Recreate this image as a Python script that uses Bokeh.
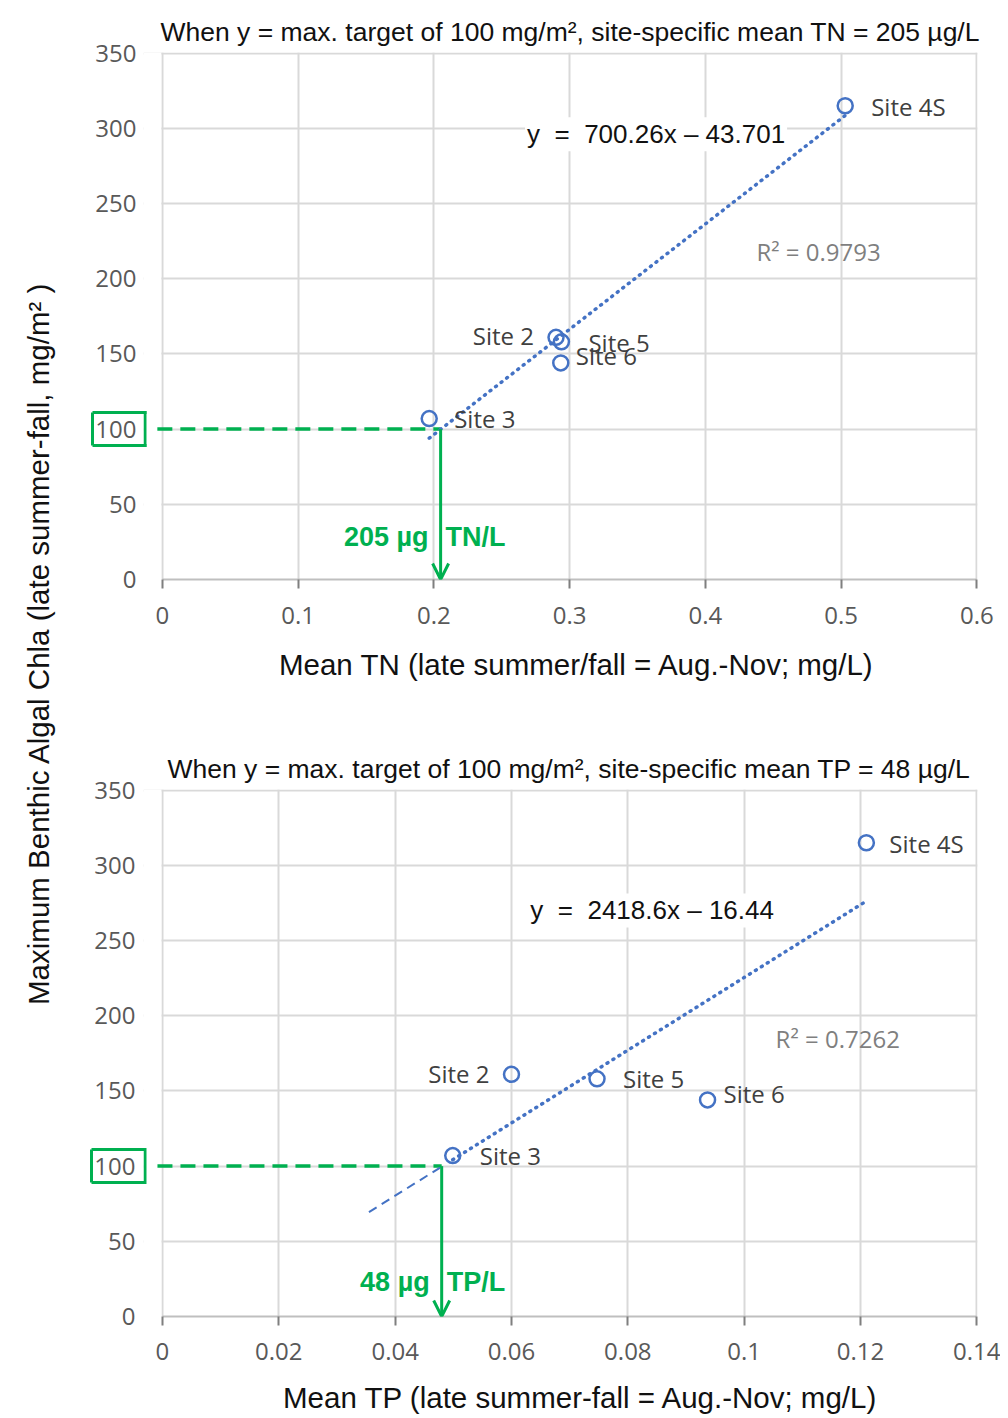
import math
from bokeh.plotting import figure
from bokeh.layouts import row, column
from bokeh.models import Label, Arrow, OpenHead, FixedTicker, LinearAxis
from bokeh.embed import file_html
from bokeh.resources import INLINE

# ---------------- data ----------------
sites = ["Site 4S", "Site 2", "Site 5", "Site 6", "Site 3"]
chla = [315, 161, 158, 144, 107]                 # max benthic algal Chla, mg/m2
mean_tn = [0.503, 0.290, 0.294, 0.2935, 0.1966]  # mg/L
mean_tp = [0.121, 0.060, 0.0747, 0.0937, 0.0499]  # mg/L

tn_slope, tn_intercept, tn_r2 = 700.26, -43.701, 0.9793
tp_slope, tp_intercept, tp_r2 = 2418.6, -16.44, 0.7262
target_chla = 100
tn_target = 0.205     # 205 µg TN/L
tp_target = 0.048     # 48 µg TP/L
tp_back_start = 0.0355

y_ticks = [0, 50, 100, 150, 200, 250, 300, 350]
tn_ticks = [0, 0.1, 0.2, 0.3, 0.4, 0.5, 0.6]
tn_tick_labels = ["0", "0.1", "0.2", "0.3", "0.4", "0.5", "0.6"]
tp_ticks = [0, 0.02, 0.04, 0.06, 0.08, 0.1, 0.12, 0.14]
tp_tick_labels = ["0", "0.02", "0.04", "0.06", "0.08", "0.1", "0.12", "0.14"]

# ---------------- styles ----------------
BLUE = "#4472C4"
GREEN = "#00B050"
GRID = "#d9d9d9"
SANS = "Liberation Sans"
TICKF = "Open Sans"
FRAME_H = 527          # px height of each plot frame
BOX_GAP = 19           # px between box right edge and x = 0
BOX_HALF_PX = 16.5     # half height of the green box, px
NB = "\u00a0"

# label offsets (px) for site labels: (dx, dy, align)
tn_label_offsets = [(26, -1, "left"), (-22, 2, "right"), (27, -1, "left"), (15, 7, "left"), (25, 0, "left")]
tp_label_offsets = [(23, -1, "left"), (-22, 1, "right"), (26, 0, "left"), (16, 6, "left"), (27, 0, "left")]


def make_panel(xs, ticks, tick_labels, xmax, slope, intercept, r2, target, title,
               title_offset, xlabel, xlabel_pad, eq_pos, r2_pos, offsets, unit_left,
               unit_right, unit_y, width, height, plot_px, bl, br, bt, bb, s1, s2,
               ylab_standoff, box_w, back_start=None):
    px = xmax / plot_px                      # data units per pixel (x)
    py = 350.0 / FRAME_H                     # data units per pixel (y)
    x_start = -BOX_GAP * px
    x_end = xmax + 0.6 * px
    y_end = 350 + 0.6 * py
    p = figure(width=width, height=height, x_range=(x_start, x_end), y_range=(0, y_end),
               min_border_left=bl, min_border_right=br, min_border_top=bt,
               min_border_bottom=bb, toolbar_location=None, output_backend="svg")
    p.background_fill_color = "white"
    p.border_fill_color = "white"
    p.outline_line_color = None
    p.grid.grid_line_color = GRID
    p.grid.grid_line_width = 2

    p.title.text = title
    p.title.text_font = SANS
    p.title.text_font_size = "26.5px"
    p.title.text_font_style = "normal"
    p.title.text_color = "#111111"
    p.title.align = "left"
    p.title.offset = title_offset
    p.title.standoff = 11

    p.xaxis.ticker = FixedTicker(ticks=ticks)
    p.xaxis.major_label_overrides = {t: l for t, l in zip(ticks, tick_labels)}
    p.xaxis.bounds = (0, xmax)
    p.yaxis.ticker = FixedTicker(ticks=y_ticks)
    p.xgrid.ticker = FixedTicker(ticks=ticks)
    p.ygrid.ticker = FixedTicker(ticks=y_ticks)
    p.xgrid.bounds = (x_start, x_end)
    p.ygrid.bounds = (0, y_end)

    for ax in (p.xaxis[0], p.yaxis[0]):
        ax.major_label_text_font = TICKF
        ax.major_label_text_font_size = "24px"
        ax.major_label_text_color = "#595959"
        ax.minor_tick_line_color = None
    p.xaxis.axis_line_color = "#bfbfbf"
    p.xaxis.axis_line_width = 2
    p.xaxis.major_tick_line_color = "#7f7f7f"
    p.xaxis.major_tick_line_width = 2
    p.xaxis.major_tick_in = 0
    p.xaxis.major_tick_out = 9
    p.xaxis.major_label_standoff = s1
    # leading no-break spaces re-centre the label on the x >= 0 part of the frame
    p.xaxis.axis_label = NB * xlabel_pad + xlabel
    p.xaxis.axis_label_text_font = SANS
    p.xaxis.axis_label_text_font_size = "29.5px"
    p.xaxis.axis_label_text_font_style = "normal"
    p.xaxis.axis_label_text_color = "#111111"
    p.xaxis.axis_label_standoff = s2

    p.yaxis.axis_line_color = None
    p.yaxis.major_tick_line_color = None
    p.yaxis.major_tick_out = 0
    p.yaxis.major_tick_in = 0
    p.yaxis.major_label_standoff = ylab_standoff

    # box around the "100" tick label: left/top/bottom edges from an extra axis
    bh = BOX_HALF_PX * py
    box_axis = LinearAxis(bounds=(target_chla - bh, target_chla + bh),
                          ticker=FixedTicker(ticks=[target_chla - bh, target_chla + bh]),
                          major_label_overrides={target_chla - bh: "", target_chla + bh: ""},
                          axis_line_color=GREEN, axis_line_width=3,
                          major_tick_line_color=GREEN, major_tick_line_width=3,
                          major_tick_in=box_w, major_tick_out=0,
                          minor_tick_line_color=None, major_label_standoff=0)
    p.add_layout(box_axis, "left")

    # white strip left of x = 0 (hides grid there)
    p.quad(left=[x_start], right=[-1.0 * px], bottom=[0], top=[y_end],
           fill_color="white", line_color=None)
    # right edge of the box (at the frame's left edge)
    p.segment(x0=[x_start + 1.5 * px], y0=[target_chla - bh - 1.5 * py],
              x1=[x_start + 1.5 * px], y1=[target_chla + bh + 1.5 * py],
              line_color=GREEN, line_width=3)

    # target dashed line and arrow
    p.line([-5 * px, target], [target_chla, target_chla], line_color=GREEN, line_width=3.5,
           line_dash="15 8")
    p.add_layout(Arrow(end=OpenHead(size=16, line_color=GREEN, line_width=3),
                       x_start=target, y_start=target_chla, x_end=target, y_end=0,
                       line_color=GREEN, line_width=3))

    # trend line
    xlo, xhi = min(xs), max(xs)
    if back_start is not None:
        p.line([back_start, target], [slope * back_start + intercept, slope * target + intercept],
               line_color=BLUE, line_width=2, line_dash="9 6")
    p.line([xlo, xhi], [slope * xlo + intercept, slope * xhi + intercept],
           line_color=BLUE, line_width=3.5, line_dash="1 6", line_cap="round")

    # points
    p.scatter(xs, chla, marker="circle", size=15, line_color=BLUE, line_width=2.5,
              fill_color=None)

    for s, xv, yv, (dx, dy, al) in zip(sites, xs, chla, offsets):
        p.add_layout(Label(x=xv, y=yv, x_offset=dx, y_offset=dy, text=s,
                           text_font=TICKF, text_font_size="24px", text_color="#404040",
                           text_align=al, text_baseline="middle"))

    sign = "–" if intercept < 0 else "+"
    eq = "y" + NB * 2 + "=" + NB * 2 + "%gx %s %g" % (slope, sign, abs(intercept))
    p.add_layout(Label(x=eq_pos[0], y=eq_pos[1], text=eq, text_font=SANS,
                       text_font_size="26px", text_color="#111111", text_align="left",
                       text_baseline="middle", background_fill_color="white",
                       background_fill_alpha=1.0, padding=2))
    p.add_layout(Label(x=r2_pos[0], y=r2_pos[1], text="R² = %.4f" % r2, text_font=TICKF,
                       text_font_size="24px", text_color="#7f7f7f", text_align="left",
                       text_baseline="middle"))

    # green value annotation
    p.add_layout(Label(x=target, y=unit_y, x_offset=-12, text=unit_left, text_font=SANS,
                       text_font_size="27px", text_font_style="bold", text_color=GREEN,
                       text_align="right", text_baseline="middle"))
    p.add_layout(Label(x=target, y=unit_y, x_offset=5, text=unit_right, text_font=SANS,
                       text_font_size="27px", text_font_style="bold", text_color=GREEN,
                       text_align="left", text_baseline="middle"))
    return p


top = make_panel(mean_tn, tn_ticks, tn_tick_labels, 0.6, tn_slope, tn_intercept, tn_r2,
                 tn_target,
                 "When y = max. target of 100 mg/m², site-specific mean TN = 205 µg/L", 17,
                 "Mean TN (late summer/fall = Aug.-Nov; mg/L)", 4,
                 (0.2672, 296), (0.4376, 218), tn_label_offsets, "205 µg", "TN/L", 28,
                 940, 683, 824, 83, 14, 52, 104, 18, 21, 7, 54)

bottom = make_panel(mean_tp, tp_ticks, tp_tick_labels, 0.14, tp_slope, tp_intercept, tp_r2,
                    tp_target,
                    "When y = max. target of 100 mg/m², site-specific mean TP = 48 µg/L", 24,
                    "Mean TP (late summer-fall = Aug.-Nov; mg/L)", 5,
                    (0.0629, 270), (0.1054, 185), tp_label_offsets, "48 µg", "TP/L", 23,
                    940, 733, 817, 81, 23, 106, 100, 17, 18, 8, 54,
                    back_start=tp_back_start)

lab = figure(width=60, height=1416, x_range=(0, 60), y_range=(0, 1416),
             x_axis_location=None, y_axis_location=None, toolbar_location=None,
             output_backend="svg", min_border=0)
lab.grid.visible = False
lab.outline_line_color = None
lab.add_layout(Label(x=38, y=1416 - 643,
                     text="Maximum Benthic Algal Chla (late summer-fall, mg/m² )",
                     angle=math.pi / 2, text_font=SANS, text_font_size="29.5px",
                     text_color="#111111", text_align="center", text_baseline="middle"))

layout = row(lab, column(top, bottom))
open("out.html", "w").write(file_html(layout, INLINE))
